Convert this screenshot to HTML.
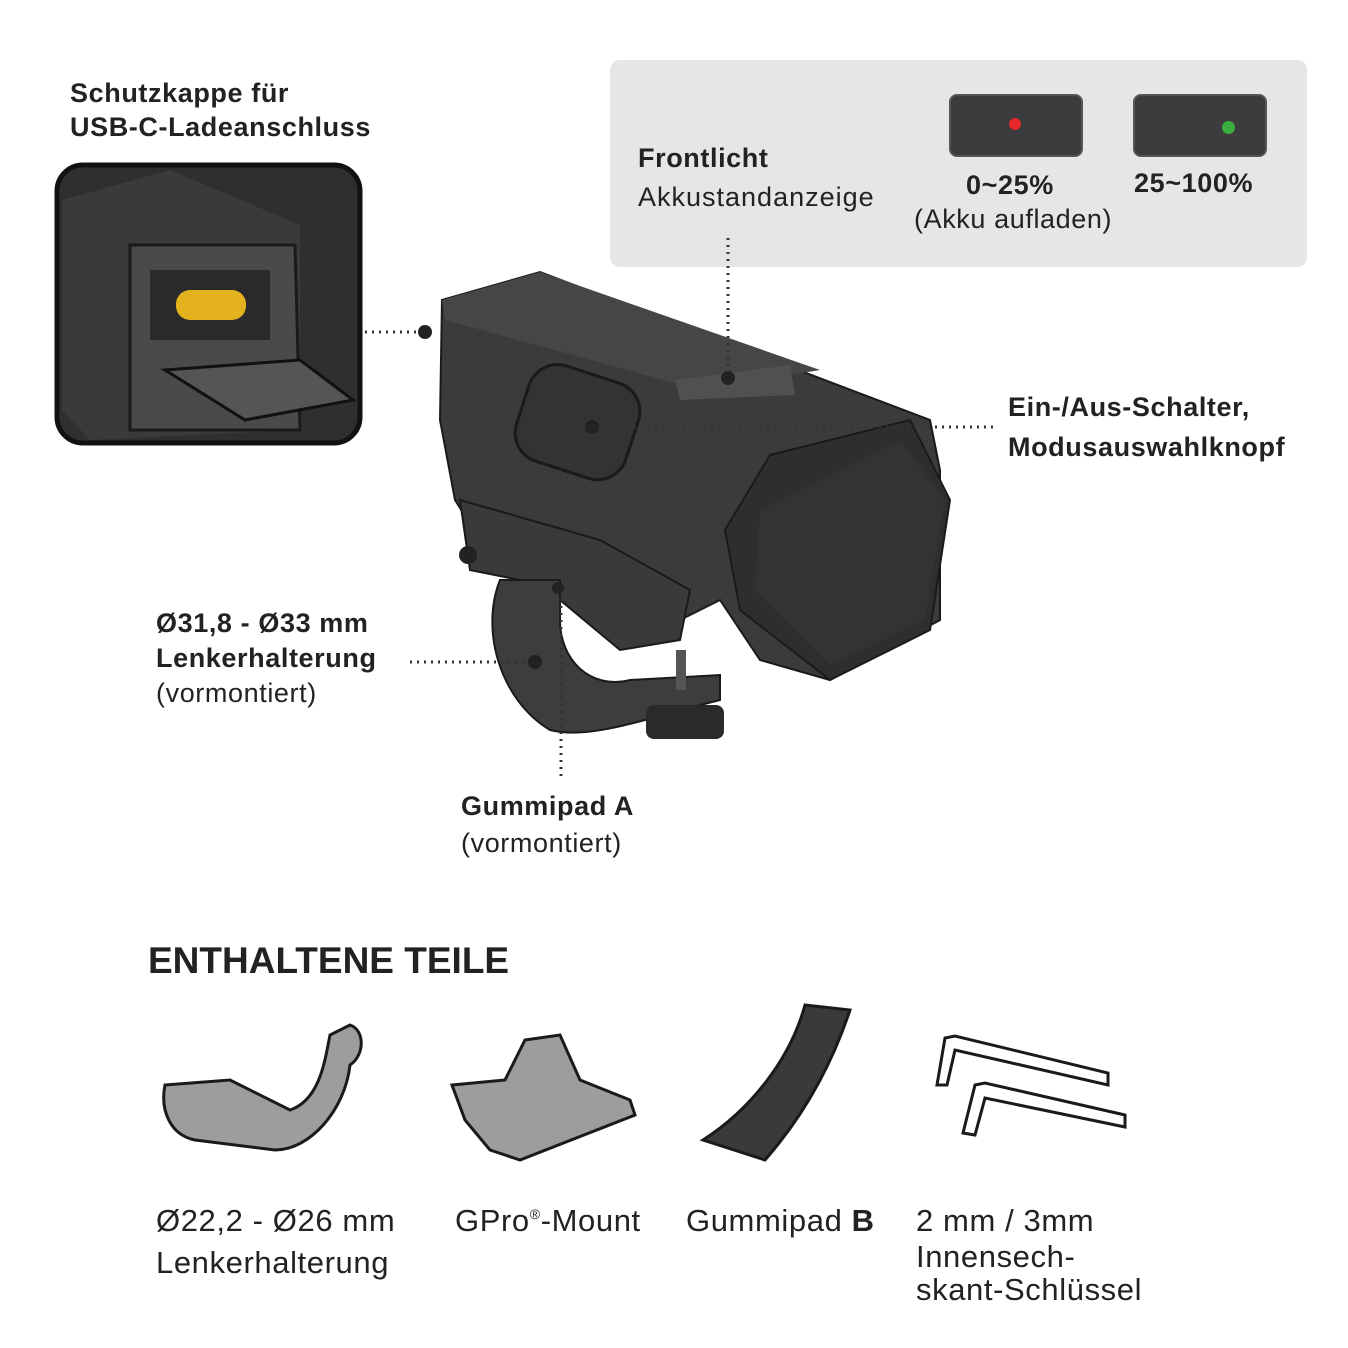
<!DOCTYPE html>
<html><head><meta charset="utf-8"><style>
body{margin:0;background:#fff;}
#c{position:relative;width:1348px;height:1348px;overflow:hidden;font-family:"Liberation Sans",sans-serif;color:#222;}
.t{position:absolute;white-space:nowrap;font-size:27px;line-height:34px;letter-spacing:0.6px;}
.b{font-weight:bold;}
.l{font-size:31px;letter-spacing:0.6px;}
sup{line-height:0;font-size:14px;vertical-align:12px;}
</style></head><body><div id="c">
<div style="position:absolute;left:610px;top:60px;width:697px;height:207px;background:#e6e6e7;border-radius:10px"></div>
<div style="position:absolute;left:949px;top:94px;width:130px;height:59px;background:#3c3c3e;border-radius:8px;border:2px solid #555"></div>
<div style="position:absolute;left:1133px;top:94px;width:130px;height:59px;background:#3c3c3e;border-radius:8px;border:2px solid #555"></div>
<div style="position:absolute;left:1009px;top:118px;width:12px;height:12px;background:#e5262a;border-radius:50%"></div>
<div style="position:absolute;left:1222px;top:121px;width:13px;height:13px;background:#3aad3e;border-radius:50%"></div>

<svg width="1348" height="1348" style="position:absolute;left:0;top:0">
<rect x="57" y="165" width="303" height="278" rx="26" fill="#2f2f31" stroke="#111" stroke-width="5"/>
<path d="M62 200 L170 170 L300 225 L300 430 L90 440 L62 410Z" fill="#3a3a3c"/>
<path d="M130 245 L295 245 L300 430 L130 430Z" fill="#4a4a4c" stroke="#1a1a1a" stroke-width="3"/>
<path d="M150 270 L270 270 L270 340 L150 340Z" fill="#2a2a2c"/>
<rect x="176" y="290" width="70" height="30" rx="14" fill="#e3b21c"/>
<path d="M165 370 L300 360 L353 400 L245 420Z" fill="#555" stroke="#111" stroke-width="3"/>
<path d="M442 300 L540 272 L930 420 L940 470 L940 620 L830 680 L760 660 L720 600 L640 640 L600 620 L580 560 L480 540 L455 500 L440 420Z" fill="#3b3b3d" stroke="#1a1a1a" stroke-width="2"/>
<path d="M442 300 L540 272 L820 370 L700 390 L445 320Z" fill="#464648"/>
<path d="M770 455 L910 420 L950 500 L930 630 L830 680 L740 610 L725 530Z" fill="#2e2e30" stroke="#1a1a1a" stroke-width="2"/>
<path d="M760 510 L900 440 L945 500 L925 620 L830 665 L755 590Z" fill="#333335"/>
<rect x="520" y="372" width="115" height="100" rx="30" fill="#333335" stroke="#1a1a1a" stroke-width="3" transform="rotate(18 577 422)"/>
<path d="M675 380 L790 365 L795 395 L680 400Z" fill="#505052"/>
<path d="M460 500 L600 540 L690 590 L680 640 L620 650 L560 600 L520 580 L470 570Z" fill="#3a3a3c" stroke="#1a1a1a" stroke-width="2"/>
<path d="M500 580 C480 630 500 700 550 730 C590 740 640 720 720 700 L720 675 L630 680 C590 690 560 660 560 620 L560 580Z" fill="#3d3d3f" stroke="#1a1a1a" stroke-width="2"/>
<rect x="676" y="650" width="10" height="40" fill="#555"/>
<rect x="646" y="705" width="78" height="34" rx="8" fill="#2a2a2c"/>
<circle cx="468" cy="555" r="9" fill="#222"/>
<g stroke="#333" stroke-width="3" stroke-dasharray="2 5" fill="none">
<path d="M365 332 L422 332"/>
<path d="M728 238 L728 375"/>
<path d="M592 427 L993 427"/>
<path d="M410 662 L532 662"/>
<path d="M561 585 L561 780"/>
</g>
<g fill="#222"><circle cx="425" cy="332" r="7"/><circle cx="728" cy="378" r="7"/><circle cx="592" cy="427" r="7"/><circle cx="535" cy="662" r="7"/><circle cx="558" cy="588" r="6"/></g>
<path d="M165 1085 L230 1080 L290 1110 C320 1100 325 1060 330 1035 L350 1025 C365 1030 365 1055 350 1065 C345 1110 310 1150 275 1150 L195 1140 C170 1135 160 1110 165 1085Z" fill="#9d9d9f" stroke="#1a1a1a" stroke-width="3"/>
<path d="M452 1085 L505 1080 L525 1040 L560 1035 L580 1080 L630 1100 L635 1115 L520 1160 L490 1150 L465 1120Z" fill="#9d9d9f" stroke="#1a1a1a" stroke-width="3"/>
<path d="M805 1005 L850 1010 C830 1070 800 1120 765 1160 L703 1140 C750 1110 790 1060 805 1005Z" fill="#3a3a3c" stroke="#1a1a1a" stroke-width="3"/>
<g fill="#fff" stroke="#1a1a1a" stroke-width="3">
<path d="M945 1038 L955 1036 L1108 1073 L1108 1085 L955 1050 L947 1085 L937 1085Z"/>
<path d="M975 1085 L985 1083 L1125 1115 L1125 1127 L985 1098 L975 1135 L963 1133Z"/>
</g>
</svg>

<div class="t b" style="left:70px;top:76px">Schutzkappe für</div>
<div class="t b" style="left:70px;top:110px">USB-C-Ladeanschluss</div>
<div class="t b" style="left:638px;top:141px">Frontlicht</div>
<div class="t" style="left:638px;top:180px;letter-spacing:1px">Akkustandanzeige</div>
<div class="t b" style="left:966px;top:168px">0~25%</div>
<div class="t" style="left:914px;top:202px">(Akku aufladen)</div>
<div class="t b" style="left:1134px;top:166px">25~100%</div>
<div class="t b" style="left:1008px;top:390px">Ein-/Aus-Schalter,</div>
<div class="t b" style="left:1008px;top:430px">Modusauswahlknopf</div>
<div class="t b" style="left:156px;top:606px">Ø31,8 - Ø33 mm</div>
<div class="t b" style="left:156px;top:641px">Lenkerhalterung</div>
<div class="t" style="left:156px;top:676px">(vormontiert)</div>
<div class="t b" style="left:461px;top:789px">Gummipad A</div>
<div class="t" style="left:461px;top:826px">(vormontiert)</div>
<div class="t b" style="left:148px;top:939px;font-size:37px;line-height:44px;letter-spacing:0">ENTHALTENE TEILE</div>
<div class="t l" style="left:156px;top:1204px">Ø22,2 - Ø26 mm</div>
<div class="t l" style="left:156px;top:1246px">Lenkerhalterung</div>
<div class="t l" style="left:455px;top:1204px">GPro<sup>®</sup>-Mount</div>
<div class="t l" style="left:686px;top:1204px">Gummipad <b>B</b></div>
<div class="t l" style="left:916px;top:1204px">2 mm / 3mm</div>
<div class="t l" style="left:916px;top:1240px">Innensech-</div>
<div class="t l" style="left:916px;top:1273px">skant-Schlüssel</div>
</div></body></html>
